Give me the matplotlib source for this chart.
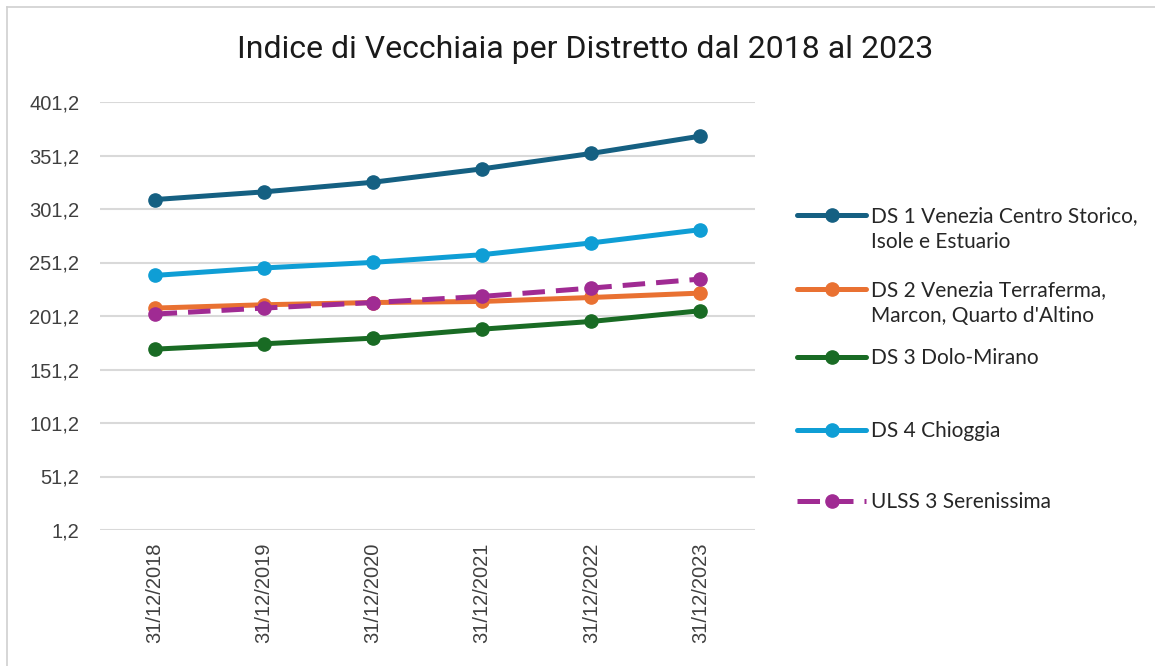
import matplotlib
matplotlib.use("Agg")
import matplotlib.pyplot as plt
from matplotlib.lines import Line2D

# data
dates = ["31/12/2018", "31/12/2019", "31/12/2020", "31/12/2021", "31/12/2022", "31/12/2023"]
ds1 = [310.0, 317.2, 326.2, 338.7, 353.1, 369.3]
ds2 = [208.6, 211.7, 213.8, 214.8, 218.5, 222.6]
ds3 = [170.2, 175.2, 180.5, 188.9, 196.1, 206.1]
ds4 = [239.1, 246.1, 251.3, 258.5, 269.5, 281.9]
ulss = [203.0, 208.6, 213.8, 219.5, 227.3, 235.7]
yticks = [1.2, 51.2, 101.2, 151.2, 201.2, 251.2, 301.2, 351.2, 401.2]

names = [
    "DS 1 Venezia Centro Storico,\nIsole e Estuario",
    "DS 2 Venezia Terraferma,\nMarcon, Quarto d'Altino",
    "DS 3 Dolo-Mirano",
    "DS 4 Chioggia",
    "ULSS 3 Serenissima",
]
colors = ["#156082", "#E97132", "#196B24", "#0F9ED5", "#A02B93"]
series = [ds1, ds2, ds3, ds4, ulss]
styles = ["-", "-", "-", "-", "--"]

W, H = 1155, 666
fig = plt.figure(figsize=(W / 100, H / 100), dpi=100)
ax = fig.add_axes([100 / W, (H - 530) / H, 655 / W, 428 / H])

x = list(range(len(dates)))
# draw in order so the dashed series sits on top like the reference
for i in [0, 3, 2, 1, 4]:
    ln, = ax.plot(x, series[i], color=colors[i], lw=3.6, marker="o", ms=9.5,
                  ls=styles[i], solid_capstyle="round", zorder=3 + i)
    if styles[i] == "--":
        ln.set_dashes((4.5, 2.2))

ax.set_xlim(-0.5, len(dates) - 0.5)
ax.set_ylim(yticks[0], yticks[-1])
ax.set_yticks(yticks)
ax.set_yticklabels([f"{v:.1f}".replace(".", ",") for v in yticks],
                   family="Liberation Sans", fontsize=14.5, color="#404040")
ax.set_xticks(x)
ax.set_xticklabels(dates, rotation=90, family="Liberation Sans", fontsize=14.5,
                   color="#404040")
ax.tick_params(axis="y", length=0, pad=15)
ax.tick_params(axis="x", length=0, pad=9)
ax.grid(axis="y", color="#D9D9D9", lw=1.5)
ax.set_axisbelow(True)
for s in ax.spines.values():
    s.set_visible(False)

fig.text(585 / W, 1 - 49 / H, "Indice di Vecchiaia per Distretto dal 2018 al 2023",
         ha="center", va="center", fontsize=23, family="Roboto", color="#1A1A1A")

# legend laid out by hand, as in the Excel chart
rows = [215, 289, 357, 430, 501]
for i, y in enumerate(rows):
    yf = 1 - y / H
    h = Line2D([797 / W, 866 / W], [yf, yf], transform=fig.transFigure,
               color=colors[i], lw=3.6, ls=styles[i], solid_capstyle="round")
    if styles[i] == "--":
        h.set_dashes((4.5, 2.2))
    fig.add_artist(h)
    fig.add_artist(Line2D([831.5 / W], [yf], transform=fig.transFigure,
                          color=colors[i], marker="o", ms=9.5, ls="none"))
    fig.text(871 / W, 1 - (y - 9) / H, names[i], ha="left", va="top",
             fontsize=15, linespacing=1.4, family="Lato", color="#262626")

# partial chart border (top and left only visible in the crop)
fig.add_artist(Line2D([7 / W, 1], [1 - 7 / H, 1 - 7 / H], transform=fig.transFigure,
                      color="#D0D0D0", lw=1.2))
fig.add_artist(Line2D([7 / W, 7 / W], [0, 1 - 7 / H], transform=fig.transFigure,
                      color="#D0D0D0", lw=1.2))

fig.savefig("out.png", dpi=100)
